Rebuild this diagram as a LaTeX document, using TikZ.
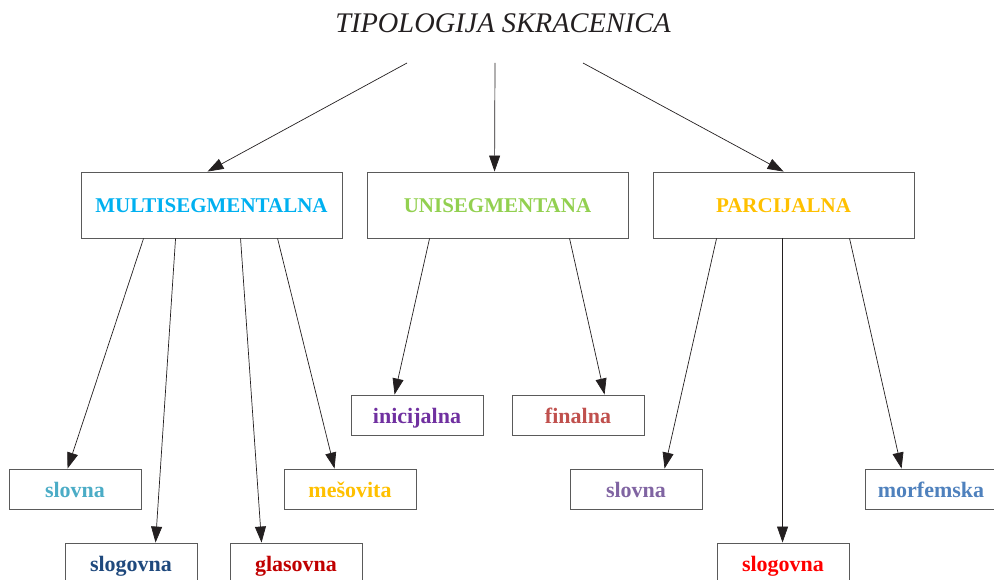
\documentclass[tikz,border=0pt]{standalone}
\usepackage{fontspec}
\setmainfont{Liberation Serif}
\usetikzlibrary{arrows.meta}
\definecolor{cMulti}{HTML}{00B0F0}
\definecolor{cUni}{HTML}{92D050}
\definecolor{cParc}{HTML}{FFC000}
\definecolor{cInic}{HTML}{7030A0}
\definecolor{cFin}{HTML}{C0504D}
\definecolor{cSlovL}{HTML}{4BACC6}
\definecolor{cMes}{HTML}{FFC000}
\definecolor{cSlogL}{HTML}{1F497D}
\definecolor{cGlas}{HTML}{C00000}
\definecolor{cSlovR}{HTML}{8064A2}
\definecolor{cSlogR}{HTML}{FF0000}
\definecolor{cMorf}{HTML}{4F81BD}
\definecolor{edge}{HTML}{5A5A5A}
\definecolor{ink}{HTML}{231F20}
\tikzset{
  bigbox/.style={draw=edge, line width=0.9pt, minimum width=261pt, minimum height=66pt, inner sep=0pt, text height=16pt, text depth=0pt, font=\fontsize{21}{24}\selectfont\bfseries},
  smallbox/.style={draw=edge, line width=0.9pt, minimum width=132pt, minimum height=40pt, inner sep=0pt, text height=16pt, text depth=0pt, font=\fontsize{22}{25}\selectfont\bfseries},
  arr/.style={draw=ink, line width=0.7pt, -{Triangle[length=16pt,width=11pt]}},
}
\begin{document}
\begin{tikzpicture}[x=1pt,y=-1pt]
\useasboundingbox (0,0) rectangle (994,580);
\node[font=\fontsize{28.4}{32}\selectfont\itshape, text=ink] (title) at (503,23) {TIPOLOGIJA SKRACENICA};
\coordinate (t1) at (407,63);
\coordinate (t2) at (495,63);
\coordinate (t3) at (583,63);
\node[bigbox, text=cMulti] (multi) at (211.5,205) {MULTISEGMENTALNA};
\node[bigbox, text=cUni] (uni) at (497.5,205) {UNISEGMENTANA};
\node[bigbox, text=cParc] (parc) at (783.5,205) {PARCIJALNA};
\node[smallbox, text=cInic] (inic) at (417,415) {inicijalna};
\node[smallbox, text=cFin] (fin) at (578,415) {finalna};
\node[smallbox, text=cSlovL] (slovL) at (75,489) {slovna};
\node[smallbox, text=cMes] (mes) at (350,489) {mešovita};
\node[smallbox, text=cSlogL] (slogL) at (131,563) {slogovna};
\node[smallbox, text=cGlas] (glas) at (296,563) {glasovna};
\node[smallbox, text=cSlovR] (slovR) at (636,489) {slovna};
\node[smallbox, text=cSlogR] (slogR) at (783,563) {slogovna};
\node[smallbox, text=cMorf] (morf) at (931,489) {morfemska};
\draw[arr] (t1) -- ([xshift=127pt]multi.north west);
\draw[arr] (t2) -- ([xshift=128pt]uni.north west);
\draw[arr] (t3) -- ([xshift=131pt]parc.north west);
\draw[arr] ([xshift=63pt]multi.south west) -- ([xshift=59pt]slovL.north west);
\draw[arr] ([xshift=95pt]multi.south west) -- ([xshift=91pt]slogL.north west);
\draw[arr] ([xshift=160pt]multi.south west) -- ([xshift=32pt]glas.north west);
\draw[arr] ([xshift=197pt]multi.south west) -- ([xshift=51pt]mes.north west);
\draw[arr] ([xshift=63pt]uni.south west) -- ([xshift=44pt]inic.north west);
\draw[arr] ([xshift=203pt]uni.south west) -- ([xshift=93pt]fin.north west);
\draw[arr] ([xshift=64pt]parc.south west) -- ([xshift=95pt]slovR.north west);
\draw[arr] ([xshift=130pt]parc.south west) -- ([xshift=66pt]slogR.north west);
\draw[arr] ([xshift=197pt]parc.south west) -- ([xshift=37pt]morf.north west);
\end{tikzpicture}
\end{document}
